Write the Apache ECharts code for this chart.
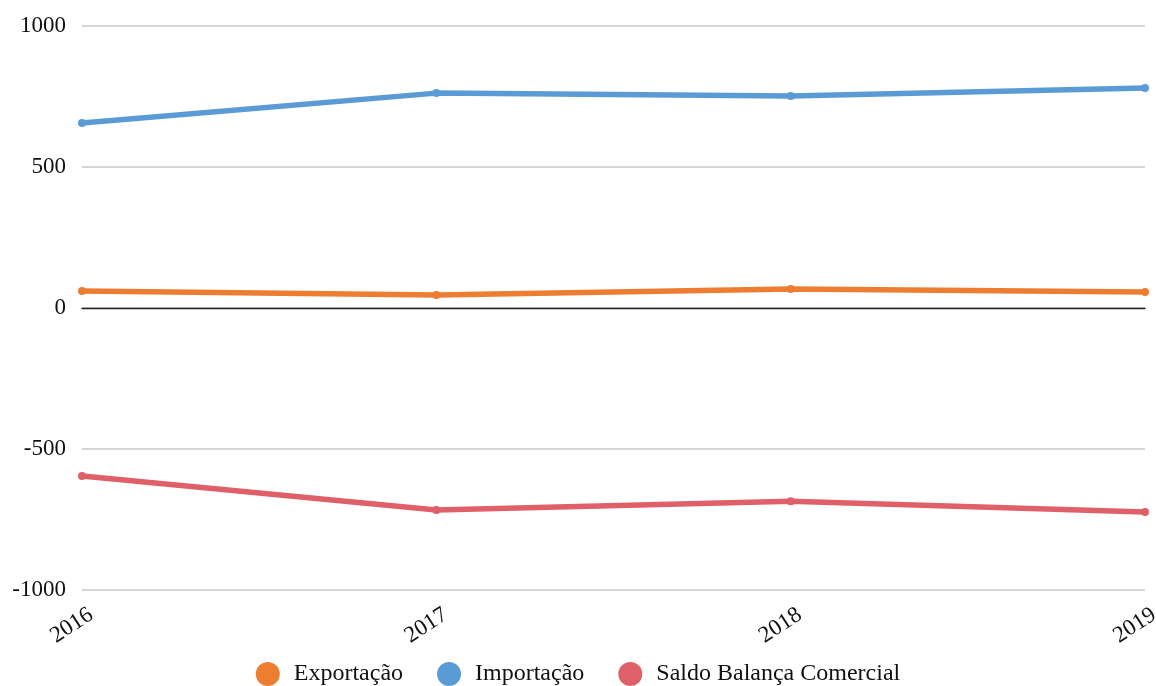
<!DOCTYPE html>
<html>
<head>
<meta charset="utf-8">
<style>
  html, body { margin: 0; padding: 0; background: #fff; }
  #chart { width: 1156px; height: 686px; }
</style>
<script src="https://cdn.jsdelivr.net/npm/echarts@6/dist/echarts.min.js"></script>
</head>
<body>
<div id="chart"></div>
<script>
// Trade balance by year
const years = ['2016', '2017', '2018', '2019'];
const exportacao = [60, 46, 67, 57];
const importacao = [656, 762, 752, 780];
const saldo = [-596, -716, -685, -723];

const yTicks = { min: -1000, max: 1000, interval: 500 };
const fontFamily = '"Liberation Serif", "DejaVu Serif", serif';

const chart = echarts.init(document.getElementById('chart'));

function lineSeries(name, data, color) {
  return {
    name: name,
    type: 'line',
    data: data,
    symbol: 'circle',
    symbolSize: 8,
    showSymbol: true,
    lineStyle: { width: 5.5, color: color },
    itemStyle: { color: color },
    emphasis: { disabled: true },
    animation: false
  };
}

chart.setOption({
  backgroundColor: '#ffffff',
  textStyle: { fontFamily: fontFamily },
  grid: {
    left: 82, right: 11, top: 26, bottom: 96,
    containLabel: false,
    outerBoundsMode: 'none'
  },
  legend: {
    top: 657,
    left: 'center',
    icon: 'circle',
    itemWidth: 24,
    itemHeight: 24,
    itemGap: 34,
    textStyle: { fontFamily: fontFamily, fontSize: 24, color: '#111', padding: [0, 0, 0, 9] },
    data: ['Exportação', 'Importação', 'Saldo Balança Comercial']
  },
  xAxis: {
    type: 'category',
    data: years,
    boundaryGap: false,
    axisLine: { onZero: true, lineStyle: { color: '#222', width: 1.3 } },
    axisTick: { show: false },
    axisLabel: {
      rotate: 33,
      fontSize: 23,
      color: '#111',
      fontFamily: fontFamily,
      margin: 29,
      padding: [0, -11, 0, 0],
      interval: 0,
      hideOverlap: false
    },
    splitLine: { show: false }
  },
  yAxis: {
    type: 'value',
    min: yTicks.min,
    max: yTicks.max,
    interval: yTicks.interval,
    axisLine: { show: false },
    axisTick: { show: false },
    axisLabel: {
      fontSize: 23,
      color: '#111',
      fontFamily: fontFamily,
      margin: 16,
      formatter: (v) => String(v)
    },
    splitLine: { lineStyle: { color: '#c8c8c8', width: 1.5 } }
  },
  series: [
    lineSeries('Exportação', exportacao, '#ED7D31'),
    lineSeries('Importação', importacao, '#5B9BD5'),
    lineSeries('Saldo Balança Comercial', saldo, '#DF6069')
  ]
});
</script>
</body>
</html>
